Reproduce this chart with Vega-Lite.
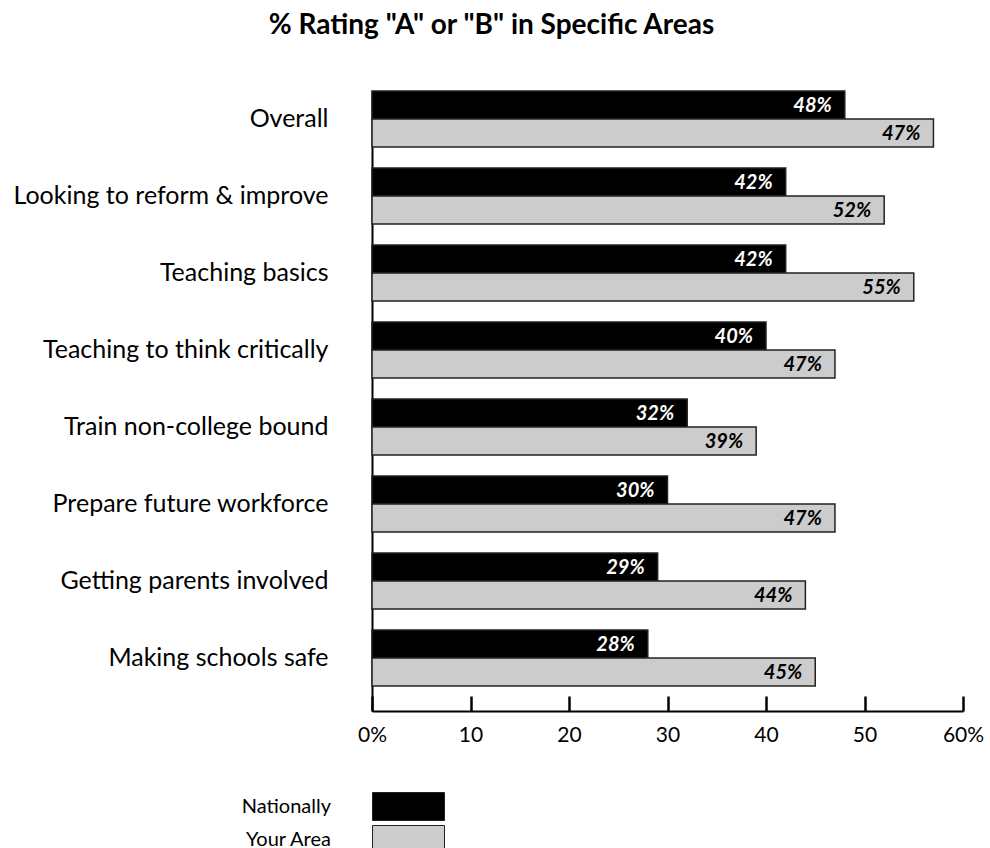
{
  "$schema": "https://vega.github.io/schema/vega-lite/v6.json",
  "width": 591,
  "height": 620,
  "autosize": {"type": "none"},
  "padding": {"left": 372, "top": 91, "right": 27, "bottom": 137},
  "background": "white",
  "config": {
    "view": {"stroke": null},
    "font": "Lato",
    "text": {"font": "Lato"}
  },
  "title": {
    "text": "% Rating \"A\" or \"B\" in Specific Areas",
    "font": "Lato",
    "fontSize": 28,
    "fontWeight": "bold",
    "color": "black",
    "anchor": "middle",
    "baseline": "alphabetic",
    "offset": 28,
    "dx": -176
  },
  "data": {
    "values": [
      {"area": "Overall", "series": "Nationally", "value": 48, "label": "48%"},
      {"area": "Overall", "series": "Your Area", "value": 57, "label": "47%"},
      {"area": "Looking to reform & improve", "series": "Nationally", "value": 42, "label": "42%"},
      {"area": "Looking to reform & improve", "series": "Your Area", "value": 52, "label": "52%"},
      {"area": "Teaching basics", "series": "Nationally", "value": 42, "label": "42%"},
      {"area": "Teaching basics", "series": "Your Area", "value": 55, "label": "55%"},
      {"area": "Teaching to think critically", "series": "Nationally", "value": 40, "label": "40%"},
      {"area": "Teaching to think critically", "series": "Your Area", "value": 47, "label": "47%"},
      {"area": "Train non-college bound", "series": "Nationally", "value": 32, "label": "32%"},
      {"area": "Train non-college bound", "series": "Your Area", "value": 39, "label": "39%"},
      {"area": "Prepare future workforce", "series": "Nationally", "value": 30, "label": "30%"},
      {"area": "Prepare future workforce", "series": "Your Area", "value": 47, "label": "47%"},
      {"area": "Getting parents involved", "series": "Nationally", "value": 29, "label": "29%"},
      {"area": "Getting parents involved", "series": "Your Area", "value": 44, "label": "44%"},
      {"area": "Making schools safe", "series": "Nationally", "value": 28, "label": "28%"},
      {"area": "Making schools safe", "series": "Your Area", "value": 45, "label": "45%"}
    ]
  },
  "encoding": {
    "y": {
      "field": "area",
      "type": "nominal",
      "sort": null,
      "scale": {"paddingInner": 0.2727, "paddingOuter": 0.1623, "align": 0},
      "axis": {
        "title": null,
        "ticks": false,
        "labelFontSize": 25,
        "labelFont": "Lato",
        "labelColor": "black",
        "labelPadding": 44,
        "domainColor": "black",
        "domainWidth": 2,
        "labelLimit": 400
      }
    },
    "yOffset": {"field": "series", "type": "nominal", "sort": ["Nationally", "Your Area"], "scale": {"paddingInner": 0, "paddingOuter": 0}},
    "x": {
      "field": "value",
      "type": "quantitative",
      "scale": {"domain": [0, 60], "nice": false},
      "axis": {
        "title": null,
        "grid": false,
        "values": [0, 10, 20, 30, 40, 50, 60],
        "labelExpr": "datum.value == 0 || datum.value == 60 ? datum.value + '%' : datum.value",
        "labelFontSize": 21,
        "labelFont": "Lato",
        "labelColor": "black",
        "labelPadding": 28,
        "tickSize": -15,
        "tickColor": "black",
        "tickWidth": 2.5,
        "domainColor": "black",
        "domainWidth": 2,
        "labelFlush": false
      }
    }
  },
  "layer": [
    {
      "mark": {"type": "bar", "stroke": "#222222", "strokeWidth": 1.5},
      "encoding": {
        "fill": {
          "field": "series",
          "type": "nominal",
          "scale": {"domain": ["Nationally", "Your Area"], "range": ["#000000", "#cccccc"]},
          "legend": {
            "title": null,
            "orient": "none",
            "legendX": 22,
            "legendY": 701,
            "direction": "vertical",
            "padding": 0,
            "rowPadding": 0,
            "symbolType": "M-2.5714,-1H2.5714V1H-2.5714Z",
            "symbolSize": 784,
            "symbolStrokeColor": "#222222",
            "symbolStrokeWidth": 1,
            "symbolOpacity": 1,
            "labelFontSize": 20,
            "labelFont": "Lato",
            "labelColor": "black",
            "labelAlign": "right",
            "labelOffset": -92
          }
        }
      }
    },
    {
      "mark": {"type": "text", "align": "right", "baseline": "middle", "dx": -13, "dy": 1, "fontSize": 20, "fontWeight": "bold", "fontStyle": "italic", "font": "Lato"},
      "encoding": {
        "text": {"field": "label", "type": "nominal"},
        "fill": {"condition": {"test": "datum.series === 'Nationally'", "value": "white"}, "value": "black"}
      }
    }
  ]
}
